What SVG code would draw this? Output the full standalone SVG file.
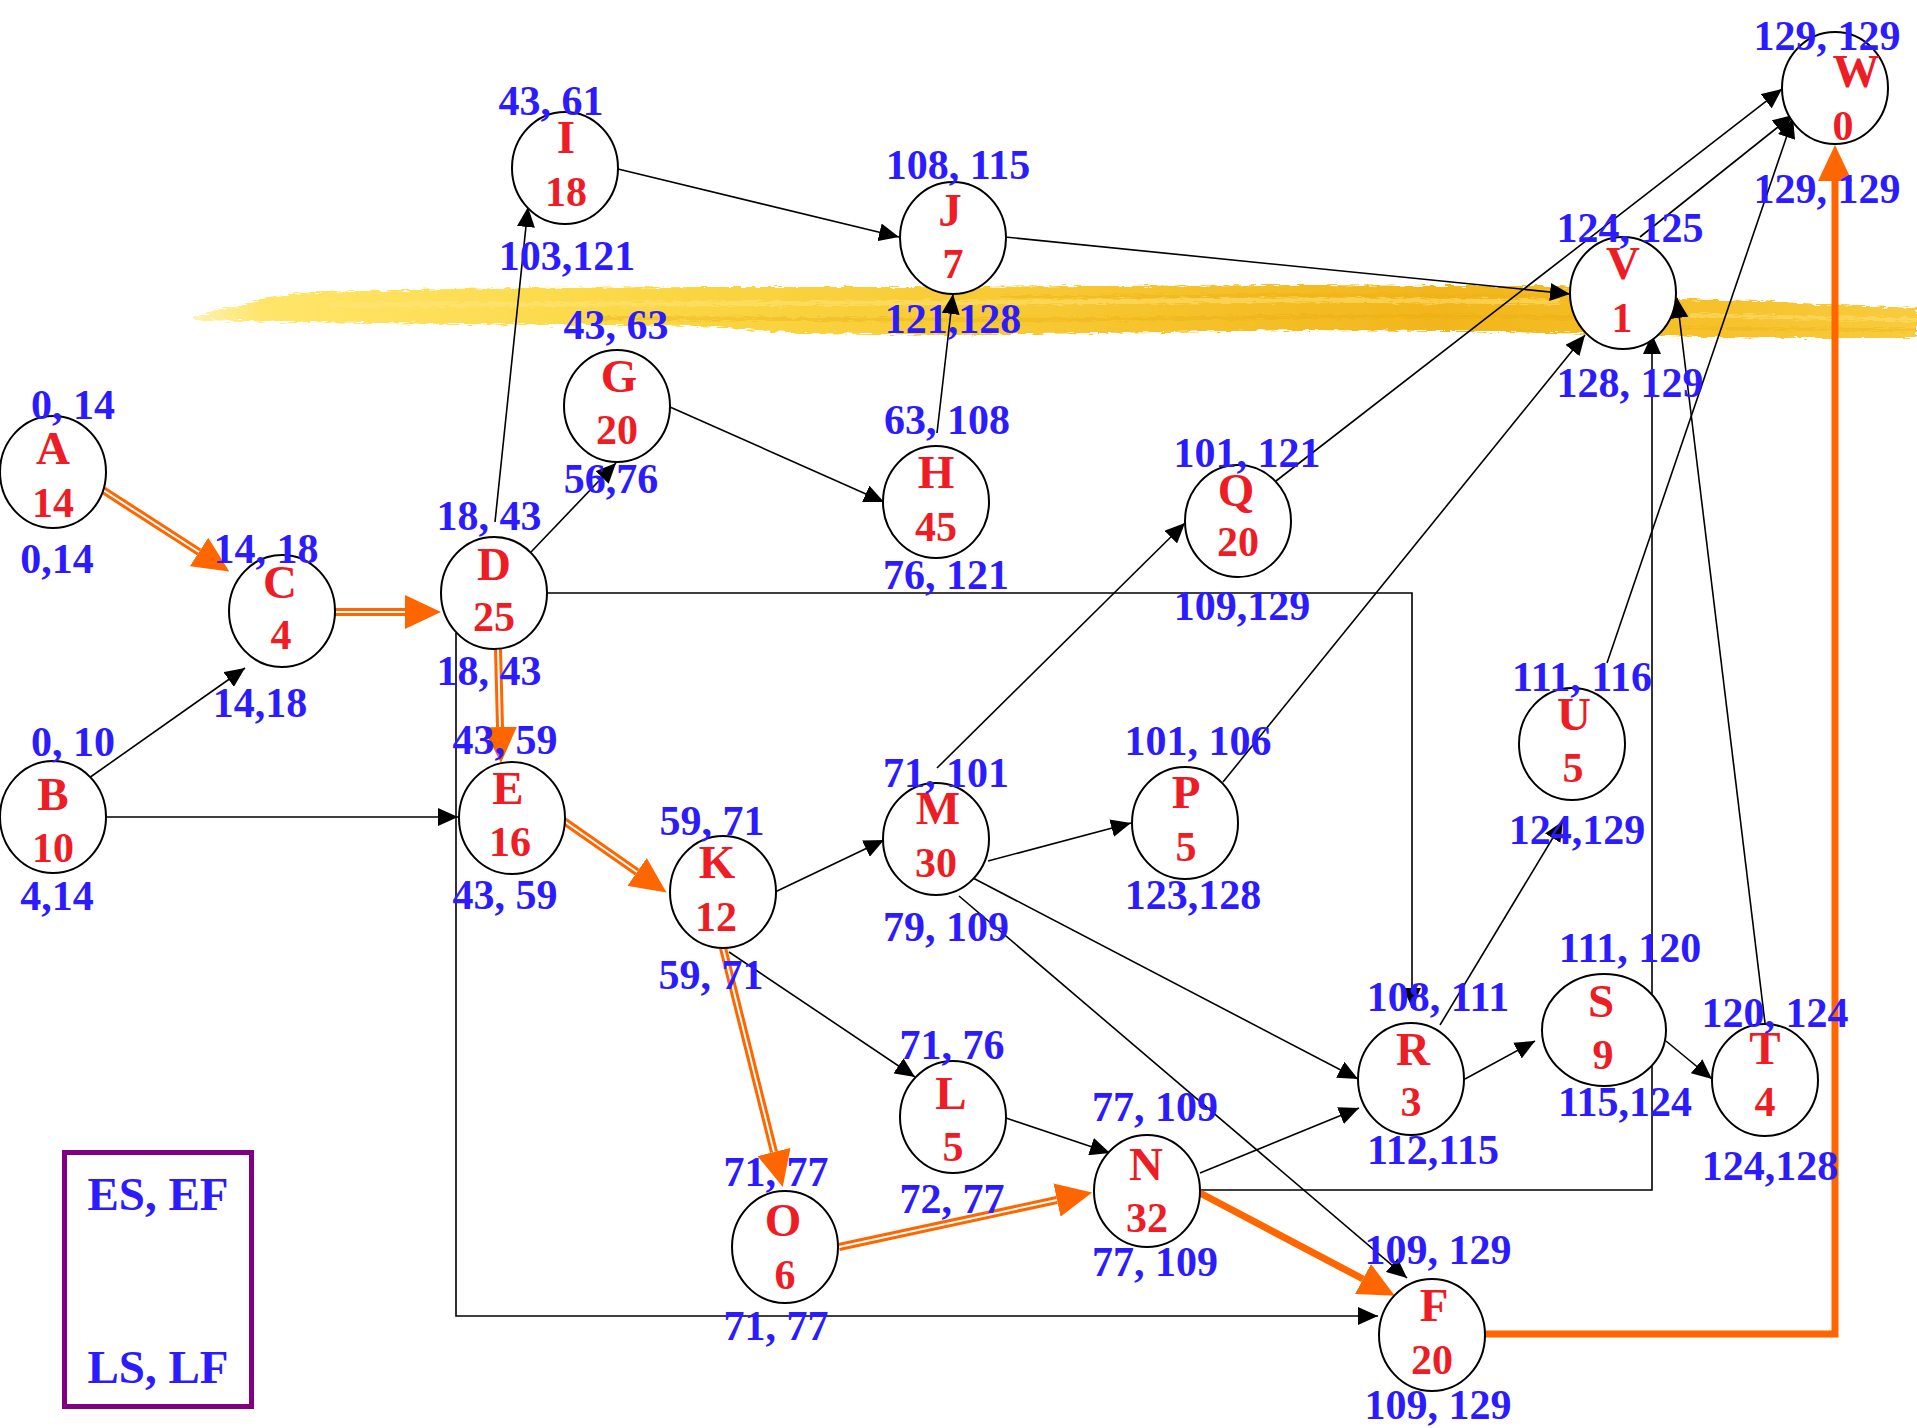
<svg xmlns="http://www.w3.org/2000/svg" width="1917" height="1428" viewBox="0 0 1917 1428">
  <defs>
    <style>
      .node { fill: #ffffff; stroke: #000000; stroke-width: 2; }
      .txt { font-family: "Liberation Serif", "Times New Roman", serif; font-weight: bold; text-anchor: middle; }
      .nm { fill: #EE1C24; font-size: 47px; }
      .du { fill: #EE1C24; font-size: 42px; }
      .es { fill: #2D1BFF; font-size: 42px; }
      .lg { fill: #2D1BFF; font-size: 47px; }
      .link { fill: none; stroke: #000000; stroke-width: 1.6; marker-end: url(#arrow); }
      .crit { fill: none; stroke: #FF6600; stroke-width: 8; marker-end: url(#arrowCrit); }
      .critGap { fill: none; stroke: #ffffff; stroke-width: 2; }
      .critBold { fill: none; stroke: #FF6600; stroke-width: 7; stroke-linejoin: miter; marker-end: url(#arrowCrit); }
    </style>
    <marker id="arrow" viewBox="0 0 20 18" markerWidth="20" markerHeight="18" refX="20" refY="9" orient="auto" markerUnits="userSpaceOnUse">
      <path d="M0,0 L20,9 L0,18 z" fill="#000000"/>
    </marker>
    <marker id="arrowCrit" viewBox="0 -17 36 34" markerWidth="36" markerHeight="34" refX="0" refY="0" orient="auto" markerUnits="userSpaceOnUse">
      <path d="M0,-17 L36,0 L0,17 z" fill="#FF6600"/>
    </marker>
    <linearGradient id="hl" x1="193" y1="0" x2="1917" y2="0" gradientUnits="userSpaceOnUse">
      <stop offset="0" stop-color="#FFF1B0"/>
      <stop offset="0.04" stop-color="#FFE56A"/>
      <stop offset="0.25" stop-color="#FBD845"/>
      <stop offset="0.5" stop-color="#F7C832"/>
      <stop offset="0.72" stop-color="#F2B61C"/>
      <stop offset="0.84" stop-color="#F5BE25"/>
      <stop offset="1" stop-color="#F8CC3E"/>
    </linearGradient>
    <!-- ragged edges for the marker-pen stroke -->
    <filter id="brush" x="-2%" y="-60%" width="104%" height="220%">
      <feTurbulence type="fractalNoise" baseFrequency="0.09 0.7" numOctaves="2" seed="4" result="noise"/>
      <feDisplacementMap in="SourceGraphic" in2="noise" scale="7" xChannelSelector="R" yChannelSelector="G"/>
    </filter>
  </defs>

  <rect width="1917" height="1428" fill="#ffffff"/>

  <!-- highlighter stroke across the upper band -->
  <g id="highlight" filter="url(#brush)">
    <path d="M193,318 L215,310 L240,306 L268,297 L312,292 L360,291 L450,289 L520,288 L700,287 L900,287 L1100,286 L1300,285 L1450,286 L1560,286 L1640,291 L1680,299 L1760,301 L1840,305 L1917,308 L1917,338 L1800,338 L1700,337 L1600,334 L1450,331 L1300,330 L1100,333 L950,335 L800,333 L700,326 L600,325 L450,324 L300,322 L240,321 L193,320 Z" fill="url(#hl)"/>
    <path d="M330,305 L900,303 L1300,300 L1560,302" fill="none" stroke="#FFE680" stroke-width="5" opacity="0.5"/>
    <path d="M600,318 L1000,320 L1400,316 L1640,318" fill="none" stroke="#E8A812" stroke-width="4" opacity="0.35"/>
    <path d="M1000,297 L1300,295 L1560,296" fill="none" stroke="#E9AC14" stroke-width="3" opacity="0.35"/>
    <path d="M1690,315 L1917,320" fill="none" stroke="#FFE27A" stroke-width="4" opacity="0.5"/>
    <path d="M1680,328 L1917,330" fill="none" stroke="#EDB21A" stroke-width="3" opacity="0.4"/>
  </g>

  <!-- arrows between activities -->
  <g id="connectors">
    <path class="link" d="M89,778 L245,668"/>
    <path class="link" d="M106,817 L458,817"/>
    <path class="link" d="M495,522 L528,207"/>
    <path class="link" d="M531,552 L616,463"/>
    <path class="link" d="M547,593 H1412 V1008"/>
    <path class="link" d="M456,633 V1316 H1378"/>
    <path class="link" d="M670,407 L884,502"/>
    <path class="link" d="M618,169 L899,237"/>
    <path class="link" d="M937,433 L953,294"/>
    <path class="link" d="M1005,237 L1570,294"/>
    <path class="link" d="M1276,481 L1782,89"/>
    <path class="link" d="M1640,237 L1793,115"/>
    <path class="link" d="M937,768 L1185,523"/>
    <path class="link" d="M1223,782 L1585,335"/>
    <path class="link" d="M1607,663 L1793,118"/>
    <path class="link" d="M1190,1190 H1652 V334"/>
    <path class="link" d="M1765,1023 L1677,298"/>
    <path class="link" d="M988,861 L1131,823"/>
    <path class="link" d="M973,878 L1358,1079"/>
    <path class="link" d="M959,896 L1407,1278"/>
    <path class="link" d="M775,892 L884,840"/>
    <path class="link" d="M729,952 L915,1077"/>
    <path class="link" d="M1006,1118 L1110,1153"/>
    <path class="link" d="M1200,1173 L1359,1108"/>
    <path class="link" d="M1465,1079 L1535,1041"/>
    <path class="link" d="M1440,1025 L1563,821"/>
    <path class="link" d="M1666,1041 L1712,1079"/>

    <!-- critical path -->
    <path class="crit" d="M103,490 L199,552"/>
    <path class="critGap" d="M103,490 L199,552"/>
    <path class="crit" d="M335,612 L405,612"/>
    <path class="critGap" d="M335,612 L405,612"/>
    <path class="crit" d="M498,649 L500,727"/>
    <path class="critGap" d="M498,649 L500,727"/>
    <path class="crit" d="M564,821 L637,872"/>
    <path class="critGap" d="M564,821 L637,872"/>
    <path class="crit" d="M723,948 L774,1152"/>
    <path class="critGap" d="M723,948 L774,1152"/>
    <path class="crit" d="M839,1247 L1057,1200"/>
    <path class="critGap" d="M839,1247 L1057,1200"/>
    <path class="critBold" d="M1200,1193 L1363,1279"/>
    <path class="critBold" d="M1485,1334 H1835 V181"/>
  </g>

  <g id="node-A">
    <ellipse class="node" cx="53" cy="472" rx="53" ry="56"/>
    <text class="txt nm" x="53" y="464">A</text>
    <text class="txt du" x="53" y="517">14</text>
    <text class="txt es" x="73" y="419">0, 14</text>
    <text class="txt es" x="57" y="573">0,14</text>
  </g>
  <g id="node-B">
    <ellipse class="node" cx="53" cy="817" rx="53" ry="56"/>
    <text class="txt nm" x="53" y="810">B</text>
    <text class="txt du" x="53" y="862">10</text>
    <text class="txt es" x="73" y="756">0, 10</text>
    <text class="txt es" x="57" y="910">4,14</text>
  </g>
  <g id="node-C">
    <ellipse class="node" cx="282" cy="611" rx="53" ry="56"/>
    <text class="txt nm" x="280" y="598">C</text>
    <text class="txt du" x="281" y="649">4</text>
    <text class="txt es" x="266" y="563">14, 18</text>
    <text class="txt es" x="260" y="717">14,18</text>
  </g>
  <g id="node-D">
    <ellipse class="node" cx="494" cy="593" rx="53" ry="56"/>
    <text class="txt nm" x="494" y="580">D</text>
    <text class="txt du" x="494" y="631">25</text>
    <text class="txt es" x="489" y="530">18, 43</text>
    <text class="txt es" x="489" y="685">18, 43</text>
  </g>
  <g id="node-E">
    <ellipse class="node" cx="512" cy="818" rx="53" ry="56"/>
    <text class="txt nm" x="508" y="804">E</text>
    <text class="txt du" x="510" y="856">16</text>
    <text class="txt es" x="505" y="754">43, 59</text>
    <text class="txt es" x="505" y="909">43, 59</text>
  </g>
  <g id="node-G">
    <ellipse class="node" cx="617" cy="406" rx="53" ry="56"/>
    <text class="txt nm" x="619" y="392">G</text>
    <text class="txt du" x="617" y="444">20</text>
    <text class="txt es" x="616" y="339">43, 63</text>
    <text class="txt es" x="611" y="493">56,76</text>
  </g>
  <g id="node-I">
    <ellipse class="node" cx="565" cy="168" rx="53" ry="56"/>
    <text class="txt nm" x="566" y="153">I</text>
    <text class="txt du" x="566" y="206">18</text>
    <text class="txt es" x="551" y="115">43, 61</text>
    <text class="txt es" x="567" y="270">103,121</text>
  </g>
  <g id="node-J">
    <ellipse class="node" cx="953" cy="238" rx="53" ry="56"/>
    <text class="txt nm" x="950" y="226">J</text>
    <text class="txt du" x="953" y="278">7</text>
    <text class="txt es" x="958" y="179">108, 115</text>
    <text class="txt es" x="953" y="333">121,128</text>
  </g>
  <g id="node-H">
    <ellipse class="node" cx="936" cy="502" rx="53" ry="56"/>
    <text class="txt nm" x="936" y="488">H</text>
    <text class="txt du" x="936" y="541">45</text>
    <text class="txt es" x="947" y="434">63, 108</text>
    <text class="txt es" x="946" y="589">76, 121</text>
  </g>
  <g id="node-Q">
    <ellipse class="node" cx="1238" cy="521" rx="53" ry="56"/>
    <text class="txt nm" x="1236" y="506">Q</text>
    <text class="txt du" x="1238" y="556">20</text>
    <text class="txt es" x="1247" y="467">101, 121</text>
    <text class="txt es" x="1242" y="620">109,129</text>
  </g>
  <g id="node-M">
    <ellipse class="node" cx="936" cy="839" rx="53" ry="56"/>
    <text class="txt nm" x="938" y="824">M</text>
    <text class="txt du" x="936" y="877">30</text>
    <text class="txt es" x="946" y="787">71, 101</text>
    <text class="txt es" x="946" y="941">79, 109</text>
  </g>
  <g id="node-P">
    <ellipse class="node" cx="1185" cy="823" rx="53" ry="56"/>
    <text class="txt nm" x="1186" y="808">P</text>
    <text class="txt du" x="1186" y="861">5</text>
    <text class="txt es" x="1198" y="755">101, 106</text>
    <text class="txt es" x="1193" y="909">123,128</text>
  </g>
  <g id="node-K">
    <ellipse class="node" cx="723" cy="892" rx="53" ry="56"/>
    <text class="txt nm" x="717" y="878">K</text>
    <text class="txt du" x="716" y="931">12</text>
    <text class="txt es" x="712" y="835">59, 71</text>
    <text class="txt es" x="711" y="989">59, 71</text>
  </g>
  <g id="node-L">
    <ellipse class="node" cx="953" cy="1117" rx="53" ry="56"/>
    <text class="txt nm" x="951" y="1109">L</text>
    <text class="txt du" x="953" y="1161">5</text>
    <text class="txt es" x="952" y="1059">71, 76</text>
    <text class="txt es" x="952" y="1213">72, 77</text>
  </g>
  <g id="node-O">
    <ellipse class="node" cx="785" cy="1247" rx="53" ry="56"/>
    <text class="txt nm" x="783" y="1236">O</text>
    <text class="txt du" x="785" y="1289">6</text>
    <text class="txt es" x="776" y="1186">71, 77</text>
    <text class="txt es" x="776" y="1340">71, 77</text>
  </g>
  <g id="node-N">
    <ellipse class="node" cx="1147" cy="1191" rx="53" ry="56"/>
    <text class="txt nm" x="1146" y="1180">N</text>
    <text class="txt du" x="1147" y="1232">32</text>
    <text class="txt es" x="1155" y="1121">77, 109</text>
    <text class="txt es" x="1155" y="1276">77, 109</text>
  </g>
  <g id="node-U">
    <ellipse class="node" cx="1572" cy="744" rx="53" ry="56"/>
    <text class="txt nm" x="1574" y="730">U</text>
    <text class="txt du" x="1573" y="782">5</text>
    <text class="txt es" x="1582" y="691">111, 116</text>
    <text class="txt es" x="1577" y="844">124,129</text>
  </g>
  <g id="node-R">
    <ellipse class="node" cx="1411" cy="1079" rx="53" ry="56"/>
    <text class="txt nm" x="1413" y="1065">R</text>
    <text class="txt du" x="1411" y="1116">3</text>
    <text class="txt es" x="1438" y="1011">108, 111</text>
    <text class="txt es" x="1433" y="1164">112,115</text>
  </g>
  <g id="node-S">
    <ellipse class="node" cx="1604" cy="1030" rx="62" ry="56"/>
    <text class="txt nm" x="1601" y="1017">S</text>
    <text class="txt du" x="1603" y="1069">9</text>
    <text class="txt es" x="1630" y="962">111, 120</text>
    <text class="txt es" x="1625" y="1116">115,124</text>
  </g>
  <g id="node-T">
    <ellipse class="node" cx="1765" cy="1080" rx="53" ry="56"/>
    <text class="txt nm" x="1765" y="1064">T</text>
    <text class="txt du" x="1765" y="1116">4</text>
    <text class="txt es" x="1775" y="1027">120, 124</text>
    <text class="txt es" x="1770" y="1180">124,128</text>
  </g>
  <g id="node-F">
    <ellipse class="node" cx="1432" cy="1335" rx="53" ry="56"/>
    <text class="txt nm" x="1434" y="1321">F</text>
    <text class="txt du" x="1432" y="1374">20</text>
    <text class="txt es" x="1438" y="1264">109, 129</text>
    <text class="txt es" x="1438" y="1419">109, 129</text>
  </g>
  <g id="node-V">
    <ellipse class="node" cx="1623" cy="293" rx="53" ry="56"/>
    <text class="txt nm" x="1623" y="279">V</text>
    <text class="txt du" x="1622" y="332">1</text>
    <text class="txt es" x="1630" y="242">124, 125</text>
    <text class="txt es" x="1630" y="397">128, 129</text>
  </g>
  <g id="node-W">
    <ellipse class="node" cx="1835" cy="88" rx="53" ry="56"/>
    <text class="txt nm" x="1856" y="87">W</text>
    <text class="txt du" x="1843" y="140">0</text>
    <text class="txt es" x="1827" y="50">129, 129</text>
    <text class="txt es" x="1827" y="203">129, 129</text>
  </g>

  <!-- key to the numbers around each activity -->
  <g id="legend">
    <rect x="64.5" y="1152.5" width="187" height="254" fill="none" stroke="#800080" stroke-width="5"/>
    <text class="txt lg" x="158" y="1210">ES, EF</text>
    <text class="txt lg" x="158" y="1383">LS, LF</text>
  </g>
</svg>
